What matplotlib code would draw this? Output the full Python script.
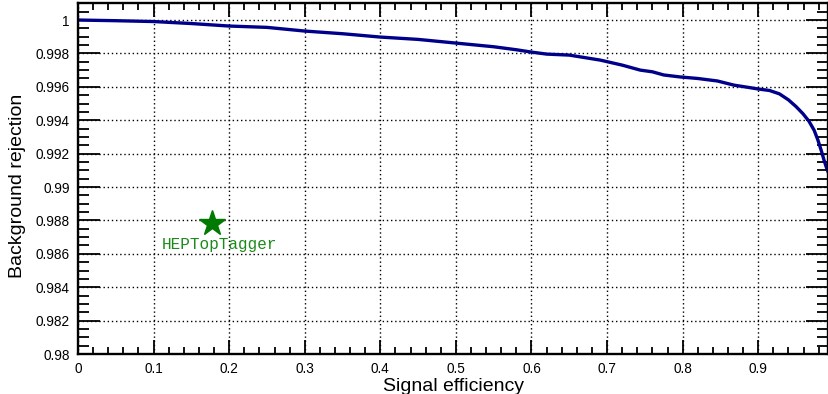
import matplotlib
matplotlib.use("Agg")
import matplotlib.pyplot as plt
from matplotlib.ticker import MultipleLocator, FuncFormatter

plt.rcParams['font.family'] = ['Liberation Sans', 'DejaVu Sans']

sig_eff = [0.0, 0.05, 0.1, 0.15, 0.2, 0.25, 0.3, 0.35, 0.4, 0.45, 0.5, 0.55, 0.58,
           0.6, 0.62, 0.65, 0.691, 0.72, 0.744, 0.76, 0.775, 0.797, 0.82, 0.846,
           0.868, 0.885, 0.9, 0.915, 0.928, 0.94, 0.95, 0.959, 0.967, 0.974, 0.979,
           0.984, 0.987, 0.990, 0.993]
bkg_rej = [1.0, 0.99996, 0.99991, 0.99979, 0.99964, 0.99956, 0.99934, 0.99918, 0.99898,
           0.99884, 0.99862, 0.99840, 0.99822, 0.99808, 0.99796, 0.99790, 0.99760,
           0.99730, 0.99700, 0.99690, 0.99671, 0.99659, 0.99650, 0.99635, 0.99610,
           0.99598, 0.99587, 0.99578, 0.99558, 0.99522, 0.99482, 0.99440, 0.99395, 0.99340,
           0.99281, 0.99210, 0.99162, 0.99120, 0.99084]

htt_eff = [0.1775]
htt_rej = [0.98784]
htt_label = "HEPTopTagger"

fig = plt.figure(figsize=(8.29, 3.94), dpi=100)
ax = fig.add_axes([78/829, 40/394, 750.5/829, 351/394])

ax.plot(sig_eff, bkg_rej, color='#00008B', lw=2.4, solid_joinstyle='round')
ax.plot(htt_eff, htt_rej, marker='*', color='#007a00', markersize=19, linestyle='none')
ax.annotate(htt_label, (htt_eff[0], htt_rej[0]), xytext=(5, -15.5), textcoords='offset points',
            ha='center', va='center', color='#1a8a1a', family='Liberation Mono', fontsize=11.5)

ax.set_xlim(0, 0.993)
ax.set_ylim(0.98, 1.00102)
ax.xaxis.set_major_locator(MultipleLocator(0.1))
ax.xaxis.set_minor_locator(MultipleLocator(0.02))
ax.yaxis.set_major_locator(MultipleLocator(0.002))
ax.yaxis.set_minor_locator(MultipleLocator(0.0005))
fmt = FuncFormatter(lambda v, p: ('%g' % round(v, 4)))
ax.xaxis.set_major_formatter(fmt)
ax.yaxis.set_major_formatter(fmt)
ax.tick_params(which='both', direction='in', top=True, right=True, colors='black', labelsize=9.8)
ax.tick_params(axis='x', which='major', length=10, width=1.3, pad=6)
ax.tick_params(axis='x', which='minor', length=5, width=1.3)
ax.tick_params(axis='y', which='major', length=16, width=1.3, pad=6)
ax.tick_params(axis='y', which='minor', length=8, width=1.3)
for s in ax.spines.values():
    s.set_linewidth(1.7)
ax.grid(True, which='major', color='black', linestyle=(0, (1, 2)), linewidth=1.0)
ax.set_axisbelow(True)

ax.set_xlabel('Signal efficiency', fontsize=14, labelpad=1)
ax.set_ylabel('Background rejection', fontsize=14)
ax.yaxis.set_label_coords(-0.069, 0.48)

fig.savefig('out.png', dpi=100)
